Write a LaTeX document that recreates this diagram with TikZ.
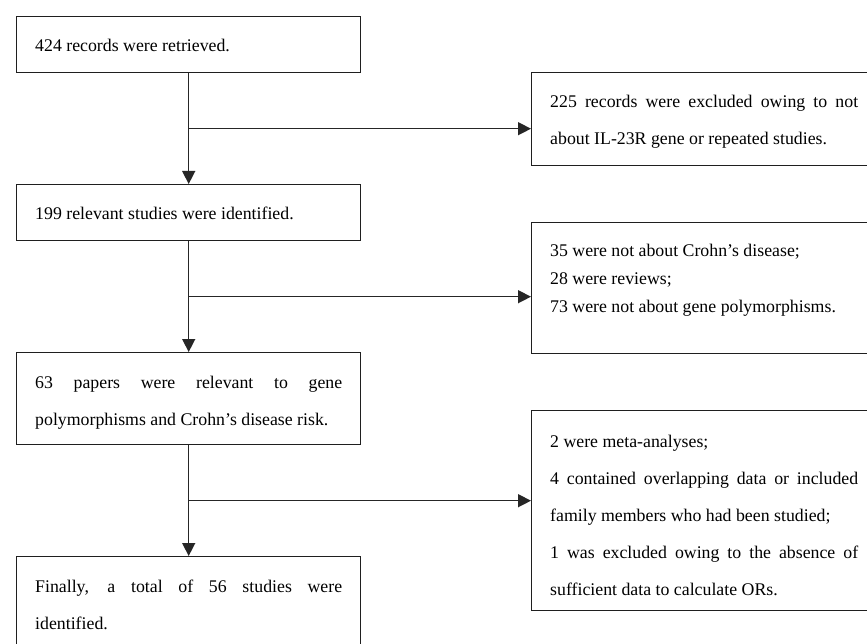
\documentclass[tikz,border=0pt]{standalone}
\usepackage{fontspec}
\setmainfont{Liberation Serif}
\usetikzlibrary{arrows.meta,calc}
\hyphenpenalty=10000
\exhyphenpenalty=10000
\tolerance=10000
\hbadness=10000
\tikzset{
  box/.style={draw=black!88, line width=1.4pt, rectangle, inner sep=0pt, anchor=north west},
  txt/.style={anchor=base west, inner sep=0pt, text width=#1, align=justify,
    font=\fontsize{17.8}{37}\selectfont},
  conn/.style={draw=black!85, line width=1.4pt},
  arr/.style={conn, -{Triangle[width=13pt,length=13pt]}},
}
\begin{document}
\begin{tikzpicture}[x=1pt,y=-1pt]
\useasboundingbox (0,0) rectangle (867,644);
\fill[white] (0,0) rectangle (867,644);
\clip (0,0) rectangle (867,644);

% left column boxes
\node[box, minimum width=344pt, minimum height=56pt] (b1) at (16,16) {};
\node[box, minimum width=344pt, minimum height=56pt] (b2) at (16,184) {};
\node[box, minimum width=344pt, minimum height=92pt] (b3) at (16,352) {};
\node[box, minimum width=344pt, minimum height=104pt] (b4) at (16,556) {};

% right column boxes
\node[box, minimum width=349pt, minimum height=93pt] (r1) at (531,72) {};
\node[box, minimum width=349pt, minimum height=131pt] (r2) at (531,222) {};
\node[box, minimum width=349pt, minimum height=200pt] (r3) at (531,410) {};

% texts
\node[txt=307pt] (b1t) at (35,52) {424 records were retrieved.};
\node[txt=307pt] (b2t) at (35,220) {199 relevant studies were identified.};
\node[txt=307pt] (b3t) at (35,388) {63 papers were relevant to gene\linebreak polymorphisms and Crohn’s disease risk.};
\node[txt=307pt] (b4t) at (35,592) {Finally, a total of 56 studies were\linebreak identified.};

\node[txt=308pt] (r1t) at (550,108) {225 records were excluded owing to not\linebreak about IL-23R gene or repeated studies.};
\node[txt=308pt, font=\fontsize{17.8}{28}\selectfont] (r2t) at (550,257) {35 were not about Crohn’s disease;\\28 were reviews;\\73 were not about gene polymorphisms.};
\node[txt=308pt] (r3t) at (550,447) {2 were meta-analyses;\\4 contained overlapping data or included\linebreak family members who had been studied;\\1 was excluded owing to the absence of\linebreak sufficient data to calculate ORs.};

% junctions
\coordinate (j1) at ($(b1.south)!0.5!(b2.north)$);
\coordinate (j2) at ($(b2.south)!0.5!(b3.north)$);
\coordinate (j3) at ($(b3.south)!0.5!(b4.north)$);

% connectors
\draw[arr] (b1.south) -- (b2.north);
\draw[arr] (b2.south) -- (b3.north);
\draw[arr] (b3.south) -- (b4.north);
\draw[arr] (j1) -- (j1 -| r1.west);
\draw[arr] (j2) -- (j2 -| r2.west);
\draw[arr] (j3) -- (j3 -| r3.west);
\end{tikzpicture}
\end{document}
